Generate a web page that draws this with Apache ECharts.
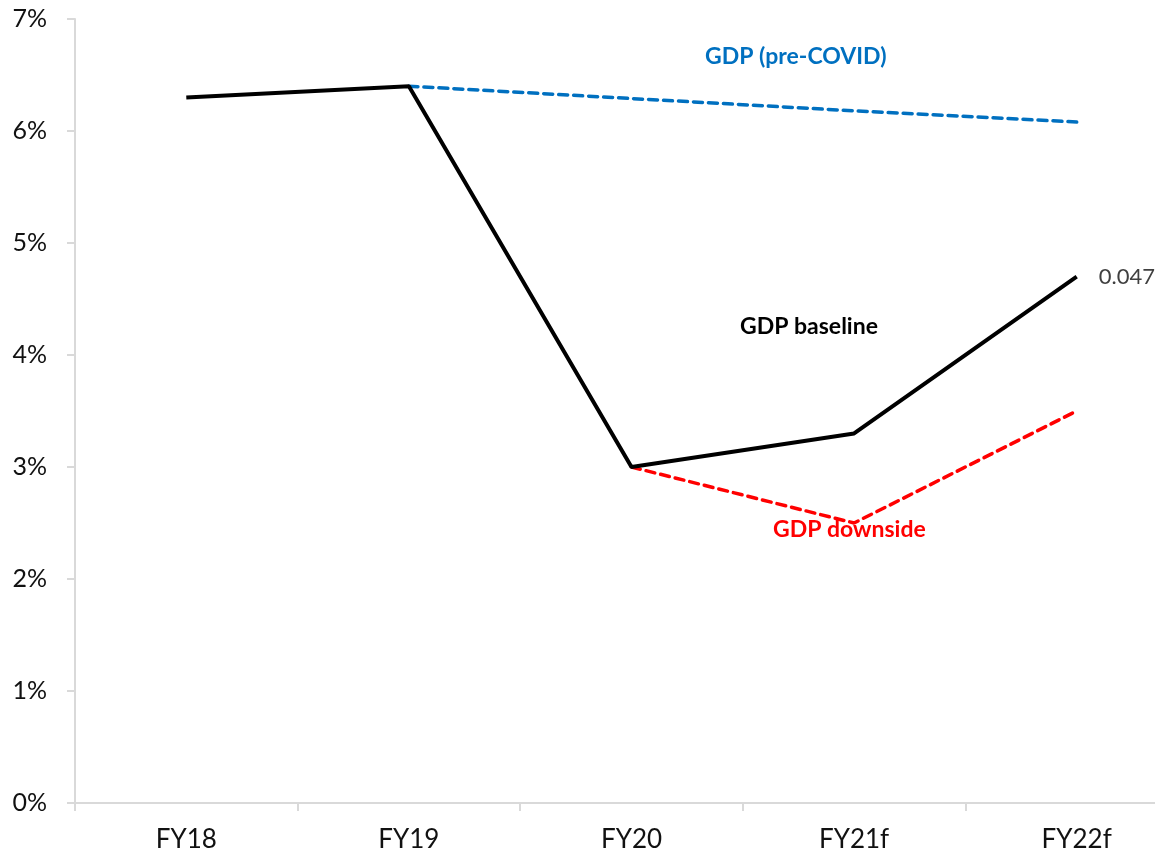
<!DOCTYPE html>
<html>
<head>
<meta charset="utf-8">
<script src="https://cdn.jsdelivr.net/npm/echarts@6/dist/echarts.min.js"></script>
<style>
html,body{margin:0;padding:0;background:#fff;overflow:hidden;}
#c{width:1230px;height:855px;}
</style>
</head>
<body>
<div id="c"></div>
<script>
const categories = ['FY18', 'FY19', 'FY20', 'FY21f', 'FY22f'];
const baseline = [0.063, 0.064, 0.030, 0.033, 0.047];
const preCovid = [null, 0.064, 0.0629, 0.0618, 0.0608];
const downside = [null, null, 0.030, 0.025, 0.035];
const yTicks = [0, 0.01, 0.02, 0.03, 0.04, 0.05, 0.06, 0.07];

const chart = echarts.init(document.getElementById('c'));
const font = 'Lato, "Open Sans", sans-serif';
chart.setOption({
  animation: false,
  backgroundColor: '#fff',
  grid: { left: 75, top: 19, bottom: 52, right: 42, containLabel: false },
  xAxis: {
    type: 'category',
    data: categories,
    boundaryGap: true,
    axisLine: { lineStyle: { color: '#D9D9D9', width: 2 } },
    axisTick: { show: true, length: 8, lineStyle: { color: '#D9D9D9', width: 2 } },
    axisLabel: { color: '#111', fontSize: 26, fontFamily: font, margin: 24 }
  },
  yAxis: {
    type: 'value',
    min: yTicks[0],
    max: yTicks[yTicks.length - 1],
    interval: 0.01,
    splitLine: { show: false },
    axisLine: { show: true, lineStyle: { color: '#D9D9D9', width: 2 } },
    axisTick: { show: true, length: 8, lineStyle: { color: '#D9D9D9', width: 2 } },
    axisLabel: {
      color: '#111', fontSize: 25, fontFamily: font, margin: 28,
      formatter: v => Math.round(v * 100) + '%'
    }
  },
  series: [
    {
      name: 'GDP (pre-COVID)',
      type: 'line',
      data: preCovid,
      showSymbol: false,
      symbol: 'none',
      lineStyle: { color: '#0070C0', width: 3.5, type: [9, 6], cap: 'round' },
      z: 2
    },
    {
      name: 'GDP downside',
      type: 'line',
      data: downside,
      showSymbol: false,
      symbol: 'none',
      lineStyle: { color: '#FF0000', width: 3.5, type: [9, 6], cap: 'round' },
      z: 2
    },
    {
      name: 'GDP baseline',
      type: 'line',
      data: baseline,
      symbol: 'none',
      lineStyle: { color: '#000', width: 4 },
      z: 3,
      endLabel: {
        show: true,
        formatter: p => String(p.value),
        color: '#404040',
        fontSize: 22,
        fontFamily: font,
        distance: 22,
        offset: [0, 0]
      }
    }
  ],
  graphic: [
    { type: 'text', left: 705, top: 45, style: { text: 'GDP (pre-COVID)', fill: '#0070C0', font: 'bold 23px ' + font } },
    { type: 'text', left: 740, top: 315, style: { text: 'GDP baseline', fill: '#000', font: 'bold 23px ' + font } },
    { type: 'text', left: 773, top: 518, style: { text: 'GDP downside', fill: '#FF0000', font: 'bold 23px ' + font } }
  ]
});
</script>
</body>
</html>
